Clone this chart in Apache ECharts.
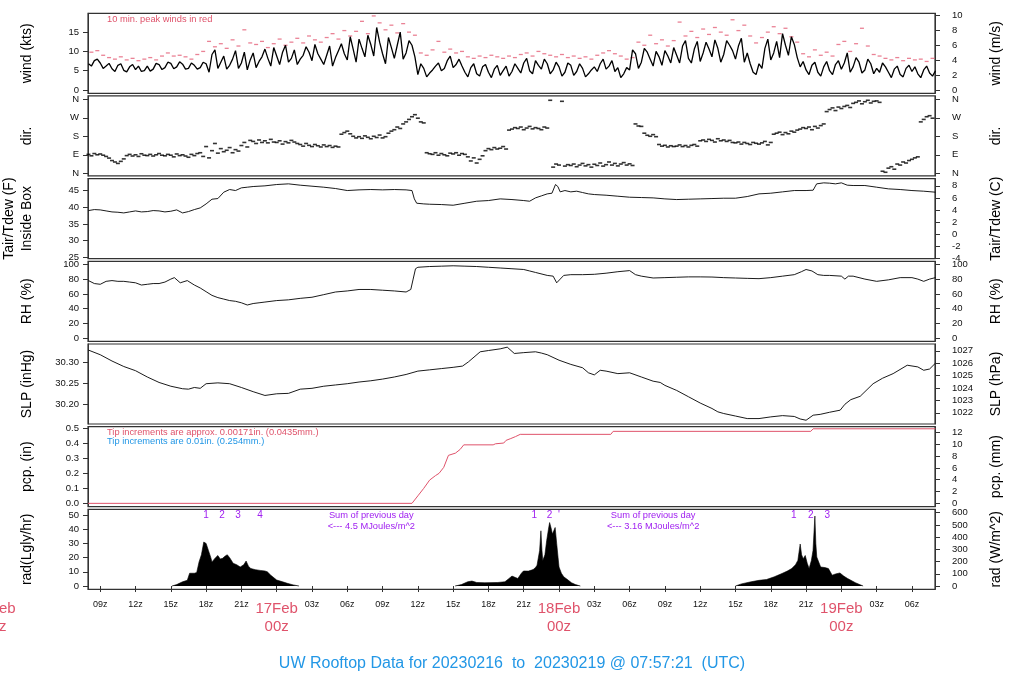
<!DOCTYPE html>
<html><head><meta charset="utf-8">
<script src="https://cdn.jsdelivr.net/npm/echarts@6/dist/echarts.min.js"></script>
<style>html,body{margin:0;padding:0;background:#fff}#c{width:1024px;height:700px}</style>
</head><body><div id="c"></div>
<script>
// ---------------- data (hours since 16Feb 00z) ----------------
const windStart = 8, windStep = 0.5;
const windKts = [6.8,7.6,7.0,6.2,5.5,6.4,5.1,6.0,5.3,4.8,6.2,5.4,6.6,5.8,6.9,6.0,6.7,5.6,6.4,5.8,
 6.8,9.2,5.6,8.8,6.4,10.2,7.0,5.2,9.6,7.4,10.6,6.2,8.8,9.8,7.2,10.4,8.0,11.2,7.6,9.4,
 6.6,11.4,8.4,12.0,7.8,10.6,13.2,8.6,11.8,16.2,9.4,13.6,8.2,15.0,9.6,11.6,4.0,5.6,4.4,6.2,
 5.0,7.6,5.8,8.0,4.6,5.8,4.2,6.0,4.6,5.4,3.8,6.2,4.8,5.6,7.0,5.0,7.6,5.4,6.8,5.2,
 6.0,4.6,6.4,4.8,5.6,4.2,6.0,6.8,5.4,7.6,5.8,4.2,5.2,9.4,7.2,9.8,6.2,8.6,10.2,7.0,
 9.0,11.4,8.2,10.6,7.4,12.4,8.6,10.8,9.2,11.6,8.0,13.4,9.6,4.6,6.8,10.8,7.8,12.6,14.6,9.0,
 11.8,6.0,5.2,6.4,4.6,6.0,5.0,6.6,5.4,9.6,6.0,7.2,5.2,6.8,5.6,7.0,4.6,5.4,4.0,5.6,
 4.8,4.2,5.2,4.4,5.0];
// readings at the quarter-hour offsets (8.25, 8.75, ...)
const windKtsQ = [6.2,8.0, 5.6,6.9, 4.8,6.8, 4.7,6.6, 6.2,5.0, 4.9,6.9, 5.3,7.2, 5.5,7.3, 5.4,7.0, 5.4,7.2,
 4.6,10.4, 7.2,5.4, 8.0,5.6, 9.8,7.8, 5.8,8.6, 8.2,11.0, 6.6,11.6, 8.2,6.6, 9.0,9.8, 11.8,8.0,
 9.0,6.2, 10.2,9.4, 13.8,7.2, 10.8,14.2, 8.8,12.4, 6.8,11.0, 11.6,8.0, 12.8,8.6, 6.8,3.4, 5.2,7.0,
 5.6,8.8, 6.6,6.2, 3.4,6.8, 3.6,6.6, 3.2,6.4, 5.0,3.6, 6.8,4.4, 8.2,4.2, 6.4,8.0, 4.2,7.2,
 3.6,7.0, 3.8,6.8, 3.4,5.2, 4.8,8.0, 6.2,4.8, 3.2,5.8, 10.4,5.6, 10.8,8.0, 10.0,6.4, 8.8,11.0,
 7.0,12.8, 7.0,12.6, 9.6,10.6, 13.0,7.2, 12.8,10.2, 11.4,7.2, 6.8,4.0, 5.6,13.2, 9.6,8.4, 11.6,13.8,
 8.4,7.4, 4.0,7.2, 3.6,7.4, 4.0,7.6, 7.0,4.6, 8.4,4.4, 8.0,4.2, 4.6,6.0, 3.2,6.2, 3.4,6.4,
 6.0,3.2, 6.2,3.6];
const peakStart = 8.25, peakStep = 0.5;
const peakKts = [9.8,10.2,9.0,8.4,8.0,8.6,7.8,8.2,7.6,8.0,8.4,7.8,8.8,9.6,8.8,9.0,8.6,8.0,9.2,10.0,
 12.6,11.2,12.0,10.8,13.0,11.4,15.6,12.2,11.8,12.6,11.0,12.0,13.2,11.6,12.4,13.4,12.2,14.0,13.0,12.4,
 13.6,14.6,13.2,15.4,14.0,15.2,17.8,14.6,19.2,17.4,15.6,16.8,14.8,17.2,15.0,14.2,9.6,9.0,10.4,12.6,
 9.8,10.6,9.6,10.0,8.6,8.2,8.8,8.4,9.0,8.6,8.2,8.8,8.4,9.2,9.6,8.8,10.0,9.4,9.0,8.6,
 9.2,8.4,8.8,8.2,8.6,8.0,9.0,9.6,10.2,9.4,8.8,8.0,8.4,12.4,11.6,14.2,12.0,13.0,11.4,12.8,
 17.6,14.0,15.2,13.6,15.8,14.4,16.2,15.0,14.2,18.2,15.4,16.8,14.0,12.2,13.6,15.0,16.4,14.6,16.0,13.8,
 12.4,9.4,8.6,10.4,9.0,9.8,8.8,11.8,12.6,10.0,12.0,16.0,11.4,9.2,8.8,8.2,7.8,8.4,7.6,8.2,
 7.8,8.0,7.4,8.2];
const dirStart = 8, dirStep = 0.25;
const dirDeg = [
 92,85,96,90, 94,88,82,74, 62,55,48,58, 70,86,92,84, 90,82,95,88, 86,92,84,90, 96,88,85,92, 88,80,94,86,
 90,84,78,92, 86,96,100,82, 130,75,110,145, 98,120,105,112, 125,100,115,108, 135,150,128,160, 155,145,162,150,
 158,148,165,152, 150,158,142,154, 148,160,152,145, 140,132,145,136, 130,140,134,128, 138,130,135,126,
 132,128,190,198, 205,192,180,172, 178,170,182,175, 168,180,174,186, 172,178,195,205, 212,225,218,240,
 250,262,275,285, 268,250,245,100, 95,92,100,88, 96,90,85,98, 94,100,88,96, 92,80,60,75, 50,68,85,110,
 120,115,125,118, 122,130,118,210, 215,222,218,225, 212,220,228,216, 222,218,212,225, 220,355,30,45,
 40,350,35,42, 38,45,32,40, 48,36,42,30, 44,38,50,35, 42,55,40,48, 36,45,52,40, 46,38,240,230,
 228,195,185,180, 188,178,140,132, 136,128,134,130, 132,138,130,135, 128,136,140,132, 158,162,155,165,
 160,152,168,158, 162,155,160,150, 148,152,142,150, 145,140,150,146, 142,148,155,138, 150,190,195,200,
 188,198,192,205, 200,210,215,222, 218,225,212,228, 220,232,240,300, 310,318,305,322, 315,325,330,320,
 340,345,352,338, 348,355,342,350, 352,345,10,5, 25,32,20,45, 40,55,50,62, 68,75,80,250,
 262,275,280,268, 272];
const tempF = [[8,39.0],[8.5,39.3],[9,39.2],[9.5,38.9],[10,38.6],[10.5,38.5],[11,38.3],[11.5,38.6],[12,38.9],[12.5,38.6],
 [13,38.7],[13.5,39.0],[14,38.9],[14.5,38.6],[15,38.8],[15.5,39.2],[16,38.3],[16.5,38.7],[17,39.3],[17.5,39.8],
 [18,41.0],[18.5,42.4],[19,42.6],[19.5,44.5],[20,45.3],[20.5,45.0],[21,45.8],[21.5,46.0],[22,46.2],[23,46.4],
 [24,46.8],[25,47.0],[26,46.6],[27,46.3],[28,46.0],[29,45.6],[30,45.0],[31,45.2],[32,45.3],[33,45.2],[34,45.3],
 [35,45.2],[35.5,45.0],[35.7,42.5],[35.9,41.2],[36.5,41.0],[37,40.9],[38,40.8],[39,40.6],[40,41.2],[41,41.8],
 [42,42.0],[43,42.5],[44,42.3],[45,42.0],[45.5,41.8],[46,42.8],[46.5,43.4],[47,44.0],[47.4,44.2],[47.7,46.8],
 [47.9,46.2],[48.1,44.6],[48.5,45.0],[49,44.6],[49.5,44.8],[50,44.4],[50.5,44.0],[51,43.8],[52,43.6],[53,43.3],
 [54,43.0],[55,42.9],[56,42.8],[57,42.5],[58,42.3],[59,42.4],[60,42.5],[61,42.6],[62,42.7],[63,42.7],[64,43.2],
 [65,44.0],[66,44.2],[67,44.6],[68,45.0],[69,45.0],[69.6,45.1],[69.9,47.0],[70.5,47.3],[71,47.2],[71.5,47.0],
 [72,47.3],[72.5,46.6],[73,46.5],[74,46.5],[75,46.0],[76,45.5],[77,45.3],[78,45.0],[79,44.8],[80,44.5]];
const rhPct = [[8,78],[8.5,74],[9,73],[9.5,77],[10,78],[10.5,77],[11,77],[11.5,76],[12,75],[12.5,72],[13,73],[13.5,74],
 [14,74],[14.5,76],[15,80],[15.3,82],[15.8,75],[16.4,78],[16.8,74],[17,72],[17.5,68],[18,63],[18.5,58],[19,55],
 [19.5,53],[20,51],[20.5,50],[21,48],[21.5,45],[22,47],[22.5,48],[23,49],[24,51],[25,52],[26,54],[27,55.5],
 [28,59],[29,62.6],[30,64],[31,66],[32,66],[33,65],[34,64],[35,62.6],[35.4,66],[35.6,80],[35.8,94],[36,96],
 [37,97],[38,97.5],[39,98],[40,97.5],[41,97],[42,96],[43,95],[44,94],[45,93],[45.5,91],[46,89],[47,85],
 [47.5,84],[47.8,75],[48.1,80],[48.4,85],[49,86],[50,86],[51,86.5],[52,88],[53,90],[54,91.5],[54.5,86],[55,84],
 [56,81.5],[57,82],[58,82.5],[59,83],[60,83],[61,82.8],[62,82],[63,81.5],[64,81],[65,80.6],[66,82],[67,84],
 [68,86],[68.6,90],[69,93],[69.5,91],[70,86],[70.5,85],[71,85],[72,84],[72.3,80],[72.6,84],[73,84],[74,80],
 [75,77],[76,79],[77,82],[78,82],[78.5,80],[79,77],[79.5,80],[80,82]];
const slpInHg = [[8,30.329],[9,30.318],[10,30.303],[11,30.290],[12,30.280],[13,30.265],[14,30.252],[15,30.243],[16,30.237],
 [16.5,30.236],[17,30.240],[17.5,30.238],[18,30.249],[19,30.251],[20,30.249],[21,30.240],[22,30.230],[23,30.221],
 [24,30.225],[25,30.226],[26,30.236],[27,30.238],[28,30.243],[29,30.246],[30,30.249],[31,30.253],[32,30.256],
 [33,30.260],[34,30.265],[35,30.271],[36,30.279],[37,30.282],[38,30.285],[39,30.288],[39.8,30.291],[40.3,30.301],
 [41.3,30.325],[42,30.328],[43,30.332],[43.6,30.336],[44.2,30.321],[45,30.323],[46,30.325],[46.5,30.322],[47,30.318],
 [48,30.305],[49,30.295],[50,30.287],[50.5,30.275],[51,30.270],[51.5,30.281],[52,30.279],[53,30.273],[54,30.275],
 [55,30.265],[56,30.255],[56.6,30.252],[57,30.245],[58,30.233],[59,30.218],[60,30.203],[61,30.190],[61.5,30.182],
 [62,30.178],[63,30.172],[64,30.166],[65,30.166],[66,30.170],[67,30.173],[68,30.171],[68.5,30.165],[69,30.162],
 [69.6,30.174],[70.2,30.176],[71,30.181],[71.9,30.186],[72.3,30.200],[72.8,30.211],[73.6,30.219],[74.7,30.249],
 [75.5,30.262],[76.4,30.273],[77.6,30.293],[78.5,30.289],[79,30.281],[79.5,30.284],[80,30.298]];
const pcpIn = [[7.96,0],[35.5,0],[36.0,0.05],[36.5,0.10],[37.0,0.155],[37.5,0.185],[37.8,0.20],[38.2,0.24],[38.6,0.32],
 [39.2,0.335],[39.6,0.36],[39.9,0.39],[42.4,0.39],[42.6,0.397],[43.3,0.402],[43.5,0.42],[43.9,0.432],[44.3,0.445],
 [44.7,0.46],[52.4,0.46],[52.6,0.48],[69.4,0.48],[69.6,0.497],[80,0.497]];
const radDay1 = [[15.1,0],[15.5,1],[16.0,3],[16.4,4],[16.6,9],[16.7,10],[17.0,9],[17.2,9.5],[17.4,17],[17.6,22],[17.8,31],
 [18.0,30],[18.2,25],[18.4,20],[18.5,17],[18.8,20],[19.0,21.5],[19.2,19],[19.4,19.5],[19.6,21],[19.8,22],[20.0,20],
 [20.3,16],[20.6,15],[20.9,13.4],[21.2,15],[21.4,17.6],[21.6,14],[21.8,12.3],[22.2,11.5],[22.6,11],[23.0,10.6],
 [23.2,10],[23.5,7.6],[24.0,4.2],[24.5,3],[24.9,1.9],[25.4,0.8],[25.9,0]];
const radDay2 = [[39.16,0],[39.7,1],[40.24,3],[40.4,4.2],[40.6,3.5],[41,2.5],[41.7,2.3],[42.8,2.5],[43.4,3],[43.7,5],
 [44.0,7],[44.3,6],[44.5,5.3],[44.8,9],[44.98,10.6],[45.4,10.5],[45.8,11.6],[46.0,13],[46.13,14.6],[46.35,25],
 [46.46,38.9],[46.55,25],[46.62,18],[46.8,22],[46.95,32],[47.1,40],[47.2,44.7],[47.32,41],[47.44,36.6],[47.67,41.2],
 [47.8,30],[47.92,20],[48.0,13.4],[48.2,9],[48.4,6.5],[48.8,4],[49.06,2.3],[49.4,1],[49.82,0]];
const radDay3 = [[63.0,0],[63.5,1.5],[64.33,3],[65.0,4],[65.64,4.6],[66.3,6.5],[66.95,8.8],[67.4,10.5],[67.78,12.3],
 [68.1,15],[68.3,18],[68.5,29.6],[68.62,22],[68.76,19.2],[68.93,21.5],[69.1,16],[69.26,12.3],[69.45,18],[69.59,25],
 [69.75,49.3],[69.83,30],[69.91,20.4],[70.24,13.4],[70.6,13],[70.9,12.3],[71.22,7.6],[71.5,8.5],[71.88,9.2],
 [72.2,7],[72.53,5.3],[73.2,2.3],[73.85,0]];

// ---------------- ticks / labels ----------------
const xTickHours = [9,12,15,18,21,24,27,30,33,36,39,42,45,48,51,54,57,60,63,66,69,72,75,78];
const dayLabels = ['16Feb','17Feb','18Feb','19Feb'];
const windTicksKts = [0,5,10,15], windTicksMs = [0,2,4,6,8,10];
const dirTicks = [0,90,180,270,360], dirNames = ['N','E','S','W','N'];
const tempTicksF = [25,30,35,40,45], tempTicksC = [-4,-2,0,2,4,6,8];
const rhTicks = [0,20,40,60,80,100];
const slpTicksIn = [30.20,30.25,30.30], slpTicksHpa = [1022,1023,1024,1025,1026,1027];
const pcpTicksIn = [0,0.1,0.2,0.3,0.4,0.5], pcpTicksMm = [0,2,4,6,8,10,12];
const radTicksLy = [0,10,20,30,40,50], radTicksW = [0,100,200,300,400,500,600];
const titleText = 'UW Rooftop Data for 20230216  to  20230219 @ 07:57:21  (UTC)';

// ---------------- layout / style ----------------
const RED = '#DF536B', BLUE = '#2297E6', PURPLE = '#A020F0';
const FONT = 'Liberation Sans, Arial, sans-serif';
const X_MIN = 7.96, X_MAX = 79.96;
const GRID_LEFT = 88, GRID_W = 847, GRID_TOP0 = 13.3, GRID_STEP = 82.67, GRID_H = 80;
const id = v => String(v);
const panels = [
  {ln:'wind (kts)', rn:'wind (m/s)', min:-0.855, max:19.88, conv:v=>v/1.943844, lt:windTicksKts, rt:windTicksMs, lf:id, rf:id},
  {ln:'dir.', rn:'dir.', min:-13, max:376, conv:v=>v, lt:dirTicks, rt:dirTicks, lf:v=>dirNames[dirTicks.indexOf(v)], rf:v=>dirNames[dirTicks.indexOf(v)]},
  {ln:'Tair/Tdew (F)\nInside Box', rn:'Tair/Tdew (C)', min:24.61, max:48.56, conv:v=>(v-32)/1.8, lt:tempTicksF, rt:tempTicksC, lf:id, rf:id},
  {ln:'RH (%)', rn:'RH (%)', min:-4.05, max:104.05, conv:v=>v, lt:rhTicks, rt:rhTicks, lf:id, rf:id},
  {ln:'SLP (inHg)', rn:'SLP (hPa)', min:30.1531, max:30.3436, conv:v=>v*33.8639, lt:slpTicksIn, rt:slpTicksHpa, lf:v=>v.toFixed(2), rf:id},
  {ln:'pcp. (in)', rn:'pcp. (mm)', min:-0.022, max:0.5113, conv:v=>v*25.4, lt:pcpTicksIn, rt:pcpTicksMm, lf:v=>v.toFixed(1), rf:id},
  {ln:'rad(Lgly/hr)', rn:'rad (W/m^2)', min:-2.32, max:54.02, conv:v=>v*11.622, lt:radTicksLy, rt:radTicksW, lf:id, rf:id}
];

const grids = [], xAxes = [], yAxes = [];
panels.forEach((p, i) => {
  grids.push({left:GRID_LEFT, width:GRID_W, top:GRID_TOP0 + i*GRID_STEP, height:GRID_H, show:true,
    outerBoundsMode:'none', containLabel:false,
    borderColor:'#333', borderWidth:1.2, backgroundColor:'transparent'});
  const last = i === panels.length - 1;
  xAxes.push({type:'value', gridIndex:i, min:X_MIN, max:X_MAX, show:last,
    axisLine:{show:false}, splitLine:{show:false},
    axisTick:{show:last, customValues:xTickHours, length:6, lineStyle:{color:'#333'}},
    axisLabel:{show:last, customValues:xTickHours, margin:11, fontSize:9, color:'#111', fontFamily:FONT,
      formatter:v => {
        const h = Math.round(v), hh = ((h % 24) + 24) % 24;
        if (hh === 0) return '{big|' + dayLabels[Math.round(h/24)] + '}\n{big|00z}';
        return (hh < 10 ? '0' : '') + hh + 'z';
      },
      rich:{big:{fontSize:15, color:RED, lineHeight:18, fontFamily:FONT}}}});
  const common = {type:'value', gridIndex:i, splitLine:{show:false}, nameLocation:'middle', nameRotate:90,
    axisLine:{show:true, lineStyle:{color:'#333', width:1}},
    nameTextStyle:{fontSize:14, color:'#000', fontFamily:FONT, lineHeight:18}};
  yAxes.push(Object.assign({}, common, {position:'left', min:p.min, max:p.max, name:p.ln, nameGap:52,
    axisTick:{customValues:p.lt, length:5, lineStyle:{color:'#333'}},
    axisLabel:{customValues:p.lt, formatter:p.lf, margin:9, fontSize:9.5, color:'#111', fontFamily:FONT}}));
  yAxes.push(Object.assign({}, common, {position:'right', min:p.conv(p.min), max:p.conv(p.max), name:p.rn, nameGap:52,
    axisTick:{customValues:p.rt, length:5, lineStyle:{color:'#333'}},
    axisLabel:{customValues:p.rt, formatter:p.rf, margin:17, fontSize:9.5, color:'#111', fontFamily:FONT, align:'left'}}));
});

const lineS = (i, data, color, width) => ({type:'line', xAxisIndex:i, yAxisIndex:2*i, data, symbol:'none',
  lineStyle:{color, width}, silent:true, clip:true});

const windData = [];
windKts.forEach((v, k) => {
  windData.push([windStart + k*windStep, v]);
  if (k < windKtsQ.length) windData.push([windStart + k*windStep + windStep/2, windKtsQ[k]]);
});

const windLine = lineS(0, windData, '#000', 1.3);
const series = [
  windLine,
  {type:'scatter', xAxisIndex:0, yAxisIndex:0, data:peakKts.map((v,k)=>[peakStart + k*peakStep, v]),
    symbol:'rect', symbolSize:[4,1.3], itemStyle:{color:'#E5637A'}, silent:true},
  {type:'scatter', xAxisIndex:1, yAxisIndex:2, data:dirDeg.map((v,k)=>[dirStart + k*dirStep, v]),
    symbol:'rect', symbolSize:[4,1.6], itemStyle:{color:'#000'}, silent:true},
  lineS(2, tempF, '#000', 0.9),
  lineS(3, rhPct, '#000', 0.9),
  lineS(4, slpInHg, '#000', 0.9),
  lineS(5, pcpIn, RED, 1),
];
[radDay1, radDay2, radDay3].forEach(d => {
  const s = lineS(6, d, '#000', 0.6);
  s.areaStyle = {color:'#000', opacity:1};
  series.push(s);
});

const chart = echarts.init(document.getElementById('c'), null, {renderer:'canvas'});
chart.setOption({
  animation:false, backgroundColor:'#fff',
  textStyle:{fontFamily:FONT},
  title:{text:titleText, left:'center', top:651, textStyle:{fontSize:16, color:BLUE, fontWeight:'normal', fontFamily:FONT}},
  grid:grids, xAxis:xAxes, yAxis:yAxes, series
});

// ---------------- annotations (positioned through the axes) ----------------
const notes = [
  {g:0, h:9.575, v:18.2, t:'10 min. peak winds in red', c:RED, s:9.3, a:'left'},
  {g:5, h:9.575, v:0.47, t:'Tip increments are approx. 0.00171in. (0.0435mm.)', c:RED, s:9.3, a:'left'},
  {g:5, h:9.575, v:0.41, t:'Tip increments are 0.01in. (0.254mm.)', c:BLUE, s:9.3, a:'left'},
  {g:6, h:17.99, v:50, t:'1', c:PURPLE, s:10, a:'center'},
  {g:6, h:19.35, v:50, t:'2', c:PURPLE, s:10, a:'center'},
  {g:6, h:20.71, v:50, t:'3', c:PURPLE, s:10, a:'center'},
  {g:6, h:22.58, v:50, t:'4', c:PURPLE, s:10, a:'center'},
  {g:6, h:32.04, v:50, t:'Sum of previous day', c:PURPLE, s:9.3, a:'center'},
  {g:6, h:32.04, v:42.3, t:'<--- 4.5 MJoules/m^2', c:PURPLE, s:9.3, a:'center'},
  {g:6, h:45.9, v:50, t:'1', c:PURPLE, s:10, a:'center'},
  {g:6, h:47.2, v:50, t:'2', c:PURPLE, s:10, a:'center'},
  {g:6, h:48.0, v:50, t:"'", c:PURPLE, s:10, a:'center'},
  {g:6, h:56.0, v:50, t:'Sum of previous day', c:PURPLE, s:9.3, a:'center'},
  {g:6, h:56.0, v:42.3, t:'<--- 3.16 MJoules/m^2', c:PURPLE, s:9.3, a:'center'},
  {g:6, h:67.95, v:50, t:'1', c:PURPLE, s:10, a:'center'},
  {g:6, h:69.4, v:50, t:'2', c:PURPLE, s:10, a:'center'},
  {g:6, h:70.8, v:50, t:'3', c:PURPLE, s:10, a:'center'}
];
const graphics = notes.map(n => ({type:'text', silent:true, z:100,
  x: chart.convertToPixel({xAxisIndex:n.g}, n.h),
  y: chart.convertToPixel({yAxisIndex:2*n.g}, n.v),
  style:{text:n.t, fill:n.c, fontSize:n.s, fontFamily:FONT, align:n.a, verticalAlign:'middle'}}));
// the 16Feb day label, which lies left of the plotted range
const axisY = GRID_TOP0 + 6*GRID_STEP + GRID_H;
graphics.push({type:'text', silent:true, z:100,
  x: chart.convertToPixel({xAxisIndex:6}, 0), y: axisY + 11,
  style:{text:dayLabels[0] + '\n00z', fill:RED, fontSize:15, fontFamily:FONT, align:'center', verticalAlign:'top', lineHeight:18}});
chart.setOption({graphic:graphics});
</script></body></html>
